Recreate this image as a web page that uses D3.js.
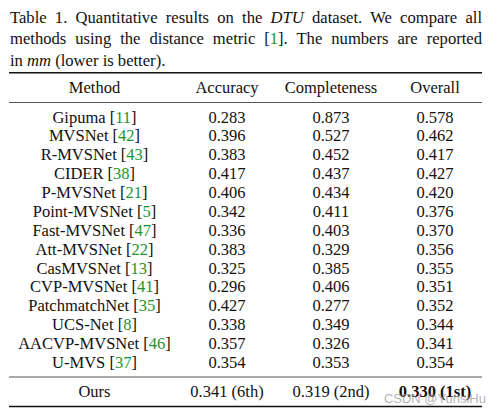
<!DOCTYPE html>
<html><head><meta charset="utf-8">
<script src="https://cdn.jsdelivr.net/npm/d3@7"></script>
<style>
html,body{margin:0;padding:0;background:#fff;}
svg{display:block;}
</style></head>
<body><svg id="c" width="502" height="413"></svg>
<script>
// ---- data ----
const captionLines = [
  "Table 1. Quantitative results on the |DTU| dataset. We compare all",
  "methods using the distance metric [#1#]. The numbers are reported",
  "in |mm| (lower is better)."
];
const headers = ["Method", "Accuracy", "Completeness", "Overall"];
const methods = ["Gipuma","MVSNet","R-MVSNet","CIDER","P-MVSNet","Point-MVSNet","Fast-MVSNet","Att-MVSNet","CasMVSNet","CVP-MVSNet","PatchmatchNet","UCS-Net","AACVP-MVSNet","U-MVS"];
const refs = [11,42,43,38,21,5,47,22,13,41,35,8,46,37];
const accuracy = [0.283,0.396,0.383,0.417,0.406,0.342,0.336,0.383,0.325,0.296,0.427,0.338,0.357,0.354];
const completeness = [0.873,0.527,0.452,0.437,0.434,0.411,0.403,0.329,0.385,0.406,0.277,0.349,0.326,0.353];
const overall = [0.578,0.462,0.417,0.427,0.420,0.376,0.370,0.356,0.355,0.351,0.352,0.344,0.341,0.354];
const oursName = "Ours";
const oursValues = [0.341,0.319,0.330];
const oursRanks = ["6th","2nd","1st"];
const watermark = "CSDN @YunsiHu";

// ---- layout ----
const SERIF = "'Liberation Serif', 'Times New Roman', Times, 'Nimbus Roman', 'DejaVu Serif', serif";
const svg = d3.select("#c").attr("font-family", SERIF).attr("fill", "#111");
const left = 9, right = 482;
const fs = 16.5;
const green = "#22952a";
const colX = d3.scaleOrdinal().domain(headers).range([94.5, 227, 331, 435]);
const rowY = d3.scaleLinear().domain([0, methods.length - 1]).range([122.5, 368]);
const fmt = d3.format(".3f");

// caption
const capBase = [22.5, 44.3, 66];
captionLines.forEach((line, li) => {
  const t = svg.append("text").attr("x", left + 1).attr("y", capBase[li])
    .attr("font-family", SERIF).attr("font-size", 16.6);
  const parts = line.split(/(\|[^|]*\||#[^#]*#)/).filter(s => s.length);
  parts.forEach(p => {
    const ts = t.append("tspan");
    if (p.startsWith("|")) ts.text(p.slice(1, -1)).attr("font-style", "italic");
    else if (p.startsWith("#")) ts.text(p.slice(1, -1)).attr("fill", green);
    else ts.text(p);
  });
  if (li < 2) {
    const w = t.node().getComputedTextLength();
    const nSp = (line.match(/ /g) || []).length;
    const target = right - (left + 1);
    t.attr("word-spacing", (target - w) / nSp);
  }
});

// rules
const rules = [
  {y: 72.8, w: 1.6, c: "#111"},
  {y: 102.5, w: 1.1, c: "#555"},
  {y: 377, w: 1.1, c: "#555"},
  {y: 406.5, w: 1.6, c: "#111"}
];
svg.selectAll("line.rule").data(rules).join("line").attr("class", "rule")
  .attr("x1", left).attr("x2", right)
  .attr("y1", d => d.y).attr("y2", d => d.y)
  .attr("stroke", d => d.c).attr("stroke-width", d => d.w);

// header
svg.selectAll("text.hdr").data(headers).join("text").attr("class", "hdr")
  .attr("x", d => colX(d)).attr("y", 93).attr("text-anchor", "middle")
  .attr("font-size", fs).text(d => d);

// body rows
const rows = svg.selectAll("g.row").data(methods).join("g").attr("class", "row")
  .attr("transform", (d, i) => `translate(0,${rowY(i)})`);
rows.each(function(m, i) {
  const g = d3.select(this);
  const t = g.append("text").attr("x", colX(headers[0])).attr("text-anchor", "middle")
    .attr("font-size", fs);
  t.append("tspan").text(m + " [");
  t.append("tspan").attr("fill", green).text(refs[i]);
  t.append("tspan").text("]");
  [accuracy[i], completeness[i], overall[i]].forEach((v, k) => {
    g.append("text").attr("x", colX(headers[k + 1])).attr("text-anchor", "middle")
      .attr("font-size", fs).text(fmt(v));
  });
});

// ours row
const oursY = 396.5;
svg.append("text").attr("x", colX(headers[0])).attr("y", oursY).attr("text-anchor", "middle")
  .attr("font-size", fs).text(oursName);
oursValues.forEach((v, k) => {
  svg.append("text").attr("x", colX(headers[k + 1])).attr("y", oursY).attr("text-anchor", "middle")
    .attr("font-size", fs).attr("font-weight", k === 2 ? "bold" : "normal")
    .text(`${fmt(v)} (${oursRanks[k]})`);
});

// watermark (overlaps the last cell in the reference too)
svg.append("text").attr("x", 486).attr("y", 403).attr("text-anchor", "end")
  .attr("font-family", "'Liberation Sans',Arial,sans-serif").attr("font-size", 13)
  .attr("fill", "#9a9a9a").attr("fill-opacity", 0.75).text(watermark);
</script></body></html>
